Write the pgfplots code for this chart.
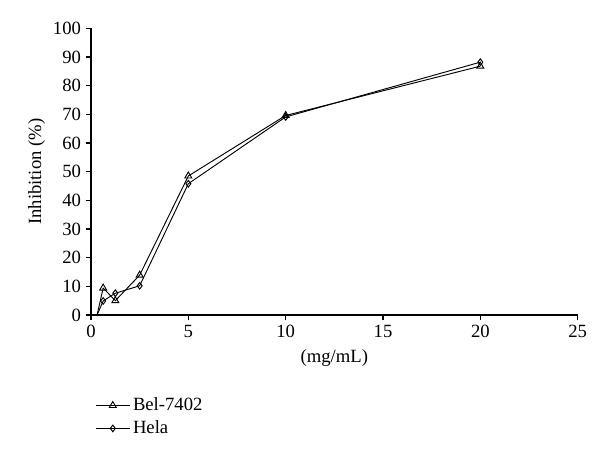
\documentclass[border=0pt]{standalone}
\usepackage{pgfplots}
\pgfplotsset{compat=1.18}
\usepackage{fontspec}
\setmainfont{Liberation Serif}
\begin{document}
\begin{tikzpicture}
\begin{axis}[
    scale only axis,
    width=365pt, height=215pt,
    xmin=0, xmax=25, ymin=0, ymax=100,
    xtick={0,5,...,25}, ytick={0,10,...,100},
    axis x line*=bottom, axis y line*=left,
    axis line style={line width=0.8pt},
    tick align=outside, tick pos=left,
    major tick length=4pt,
    tick style={line width=0.8pt, black},
    tick label style={font=\fontsize{14}{16}\selectfont},
    /pgf/number format/assume math mode=true,
    xlabel={(mg/mL)}, ylabel={Inhibition (\%)},
    label style={font=\fontsize{14}{16}\selectfont},
    xlabel style={yshift=-2pt},
    ylabel style={yshift=-1pt},
    legend style={at={(0.0,-0.27)}, anchor=north west, draw=none,
        font=\fontsize{14}{16}\selectfont, row sep=2pt},
    legend image code/.code={
        \draw[mark repeat=2, mark phase=2, #1]
            plot coordinates {(0cm,0cm) (0.45cm,0cm) (0.9cm,0cm)};},
    legend cell align=left,
    clip=false,
]
\addplot[forget plot, black, line width=0.7pt] coordinates {(0.3125,0) (0.625,9.4)};
\addplot[forget plot, black, line width=0.7pt] coordinates {(0.3125,0) (0.625,4.9)};
\addplot[black, line width=0.7pt, mark=triangle, mark size=3pt,
    mark options={solid, line width=0.7pt}]
    coordinates {(0.625,9.4) (1.25,5.0) (2.5,13.9) (5,48.5) (10,69.6) (20,86.8)};
\addplot[black, line width=0.7pt, mark=diamond, mark size=2.5pt,
    mark options={solid, line width=0.7pt}]
    coordinates {(0.625,4.9) (1.25,7.6) (2.5,10.2) (5,45.8) (10,69.1) (20,88.2)};
\legend{Bel-7402, Hela}
\end{axis}
\path[use as bounding box] (-68.25pt,-109.5pt) rectangle (381.75pt,236.25pt);
\end{tikzpicture}
\end{document}
